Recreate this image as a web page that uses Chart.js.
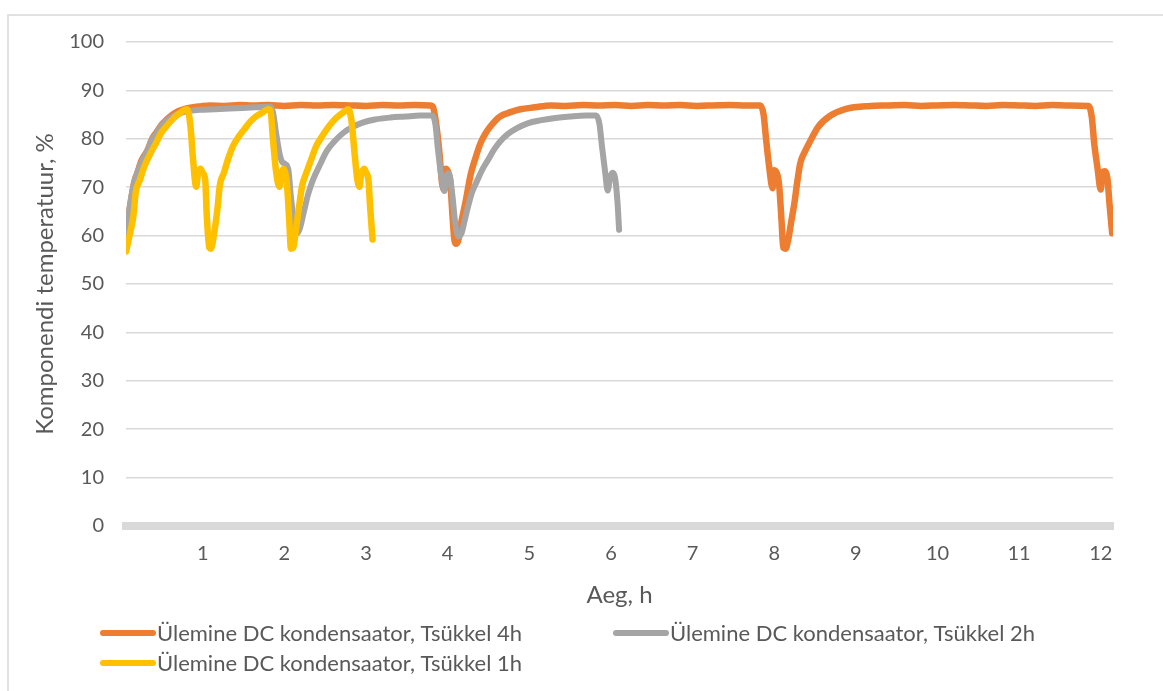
<!DOCTYPE html>
<html>
<head>
<meta charset="utf-8">
<script src="https://cdn.jsdelivr.net/npm/chart.js@4.4.1/dist/chart.umd.min.js"></script>
<style>
  html, body { margin: 0; padding: 0; background: #ffffff; }
  #wrap { width: 1163px; height: 691px; position: relative; }
  canvas { display: block; }
</style>
</head>
<body>
<div id="wrap"><canvas id="chart" width="1163" height="691"></canvas></div>
<script>
// Tsükkel 4h
const hours4h = [0.06,0.11,0.16,0.20,0.25,0.32,0.38,0.44,0.50,0.56,0.63,0.70,0.78,0.87,0.97,1.09,1.27,1.45,1.62,1.80,2.00,2.20,2.40,2.60,2.80,3.00,3.20,3.40,3.60,3.79,
  3.82,3.86,3.90,3.93,3.96,3.98,4.01,4.03,4.06,4.08,4.10,4.13,4.17,4.22,4.28,4.34,4.40,4.46,4.52,4.64,4.77,4.89,5.07,5.26,5.45,5.65,5.85,6.05,6.25,6.45,6.65,6.85,7.05,7.25,7.45,7.65,7.83,
  7.87,7.90,7.94,7.98,8.00,8.04,8.06,8.09,8.11,8.14,8.17,8.21,8.25,8.28,8.32,8.38,8.44,8.54,8.69,8.88,9.18,9.40,9.60,9.80,10.00,10.20,10.40,10.60,10.80,11.00,11.20,11.40,11.60,11.85,
  11.89,11.92,11.96,12.00,12.02,12.05,12.08,12.11,12.14];
const temp4h = [59.5,66.0,71.0,73.0,75.5,77.5,80.0,81.5,83.0,84.0,85.0,85.7,86.2,86.5,86.7,86.9,86.8,87.0,86.9,87.0,86.8,87.0,86.9,87.0,86.9,86.8,87.0,86.9,87.0,86.9,
  86.6,83.0,77.0,71.0,69.5,73.8,73.0,71.5,64.0,59.5,58.3,59.0,63.0,67.0,72.5,76.0,79.0,81.0,82.5,84.6,85.5,86.1,86.5,86.9,86.8,87.0,86.9,87.0,86.8,87.0,86.9,87.0,86.8,86.9,87.0,86.9,86.9,
  85.0,80.0,74.0,69.8,73.5,72.5,70.5,63.0,57.5,57.3,59.0,63.0,67.0,70.8,75.0,77.5,79.5,82.5,84.8,86.2,86.8,86.9,87.0,86.8,86.9,87.0,86.9,86.8,87.0,86.9,86.8,87.0,86.9,86.8,
  84.5,79.0,74.0,69.5,73.0,73.3,72.0,66.0,60.5];

// Tsükkel 2h
const hours2h = [0.06,0.11,0.16,0.21,0.26,0.32,0.38,0.44,0.50,0.56,0.63,0.72,0.85,0.97,1.15,1.40,1.64,1.83,
  1.86,1.90,1.94,1.97,2.01,2.05,2.08,2.12,2.16,2.19,2.24,2.29,2.35,2.44,2.52,2.62,2.72,2.83,2.95,3.11,3.30,3.48,3.66,3.81,
  3.85,3.88,3.92,3.96,3.98,4.01,4.03,4.06,4.09,4.13,4.17,4.20,4.25,4.30,4.36,4.42,4.49,4.57,4.64,4.74,4.85,4.98,5.13,5.32,5.50,5.69,5.82,
  5.86,5.89,5.93,5.96,5.99,6.02,6.05,6.08,6.10];
const temp2h = [60.5,66.5,71.0,73.5,75.5,77.5,79.8,81.3,82.8,83.8,84.6,85.3,85.8,86.0,86.1,86.3,86.5,86.6,
  85.5,81.0,77.0,75.3,74.8,73.5,68.0,62.5,60.5,61.5,65.0,68.5,71.5,74.8,77.5,79.6,81.2,82.4,83.3,84.0,84.4,84.6,84.8,84.8,
  83.0,78.0,72.5,69.2,72.0,72.9,72.0,68.0,63.0,59.8,60.5,62.5,66.0,69.0,71.3,73.5,75.5,77.8,79.4,81.0,82.2,83.2,83.8,84.3,84.6,84.8,84.8,
  83.0,78.5,73.0,69.3,72.0,73.0,72.0,67.0,61.2];

// Tsükkel 1h
const hours1h = [0.06,0.11,0.15,0.18,0.23,0.29,0.36,0.43,0.49,0.56,0.64,0.71,0.78,0.81,
  0.85,0.88,0.92,0.94,0.97,1.00,1.03,1.05,1.08,1.10,1.14,1.18,1.21,1.26,1.31,1.37,1.43,1.51,1.58,1.65,1.73,1.80,
  1.83,1.86,1.90,1.94,1.96,1.99,2.01,2.03,2.06,2.08,2.11,2.14,2.18,2.22,2.27,2.33,2.39,2.45,2.52,2.60,2.67,2.75,2.78,
  2.82,2.86,2.89,2.92,2.94,2.98,3.00,3.03,3.05,3.08];
const temp1h = [56.7,60.5,64.0,69.0,71.5,74.5,77.0,79.2,81.2,82.7,84.2,85.2,86.0,86.1,
  82.5,76.0,70.1,72.5,73.8,73.0,71.5,64.0,57.5,57.3,60.5,65.5,70.5,73.0,75.8,78.5,80.2,82.0,83.5,84.6,85.4,86.1,
  85.8,80.0,73.0,70.1,72.5,73.8,73.0,71.0,63.0,57.3,57.5,61.0,66.0,70.5,73.0,75.8,78.5,80.2,82.0,83.7,84.8,85.8,86.1,
  84.0,77.0,72.0,70.1,72.5,73.8,73.0,71.5,66.0,59.2];

const seriesNames = [
  'Ülemine DC kondensaator, Tsükkel 4h',
  'Ülemine DC kondensaator, Tsükkel 2h',
  'Ülemine DC kondensaator, Tsükkel 1h'
];
const seriesColors = ['#ED7D31', '#A5A5A5', '#FFC000'];
const xTickValues = [1,2,3,4,5,6,7,8,9,10,11,12];
const yTickValues = [0,10,20,30,40,50,60,70,80,90,100];
const xTitle = 'Aeg, h';
const yTitle = 'Komponendi temperatuur, %';

const FONT = 'Lato, "Open Sans", "DejaVu Sans", sans-serif';
const TEXT = '#595959';
const GRID = '#d9d9d9';

function points(xs, ys) { return xs.map((x, i) => ({ x: x, y: ys[i] })); }

// White background and the thin outer frame (top and left edges)
const framePlugin = {
  id: 'frame',
  beforeDraw(chart) {
    const ctx = chart.ctx;
    ctx.save();
    ctx.fillStyle = '#ffffff';
    ctx.fillRect(0, 0, chart.width, chart.height);
    ctx.strokeStyle = GRID;
    ctx.lineWidth = 1.5;
    ctx.beginPath();
    ctx.moveTo(8, chart.height);
    ctx.lineTo(8, 15);
    ctx.lineTo(chart.width, 15);
    ctx.stroke();
    ctx.restore();
  }
};

// Legend laid out in two columns below the axis title
const legendPlugin = {
  id: 'sideLegend',
  afterDraw(chart) {
    const ctx = chart.ctx;
    const slots = [
      { x: 100, y: 633 },
      { x: 613, y: 633 },
      { x: 100, y: 663 }
    ];
    ctx.save();
    ctx.font = '22px ' + FONT;
    ctx.textBaseline = 'middle';
    ctx.textAlign = 'left';
    chart.data.datasets.forEach((ds, i) => {
      const s = slots[i];
      ctx.strokeStyle = ds.borderColor;
      ctx.lineWidth = 6;
      ctx.lineCap = 'round';
      ctx.beginPath();
      ctx.moveTo(s.x + 3, s.y);
      ctx.lineTo(s.x + 53, s.y);
      ctx.stroke();
      ctx.fillStyle = TEXT;
      ctx.fillText(ds.label, s.x + 57, s.y + 1);
    });
    ctx.restore();
  }
};

const datasets = [
  { label: seriesNames[0], data: points(hours4h, temp4h), borderColor: seriesColors[0], order: 3, borderWidth: 6.5 },
  { label: seriesNames[1], data: points(hours2h, temp2h), borderColor: seriesColors[1], order: 2, borderWidth: 6 },
  { label: seriesNames[2], data: points(hours1h, temp1h), borderColor: seriesColors[2], order: 1, borderWidth: 6.5 }
].map(d => Object.assign(d, {
  pointRadius: 0,
  cubicInterpolationMode: 'monotone',
  fill: false,
  borderJoinStyle: 'round',
  borderCapStyle: 'round'
}));

new Chart(document.getElementById('chart'), {
  type: 'line',
  data: { datasets: datasets },
  plugins: [framePlugin, legendPlugin],
  options: {
    responsive: false,
    animation: false,
    devicePixelRatio: 1,
    layout: { padding: { left: 8, top: 42, right: 50, bottom: 81 } },
    plugins: { legend: { display: false }, tooltip: { enabled: false } },
    scales: {
      x: {
        type: 'linear',
        min: 0.06,
        max: 12.15,
        afterBuildTicks(scale) { scale.ticks = xTickValues.map(v => ({ value: v })); },
        afterFit(scale) { scale.height = 84; },
        grid: { display: false, drawTicks: false },
        border: { display: true, color: GRID, width: 8 },
        ticks: { color: TEXT, font: { family: FONT, size: 20 }, padding: 16, maxRotation: 0, autoSkip: false },
        title: { display: true, text: xTitle, color: TEXT, font: { family: FONT, size: 24 }, padding: 0 }
      },
      y: {
        min: 0,
        max: 100,
        afterBuildTicks(scale) { scale.ticks = yTickValues.map(v => ({ value: v })); },
        afterFit(scale) { scale.width = 118; },
        grid: { color: GRID, lineWidth: 1.5, drawTicks: false },
        border: { display: false },
        ticks: { color: TEXT, font: { family: FONT, size: 20 }, padding: 22 },
        title: { display: true, text: yTitle, color: TEXT, font: { family: FONT, size: 24 }, padding: { top: 23 } }
      }
    }
  }
});
</script>
</body>
</html>
